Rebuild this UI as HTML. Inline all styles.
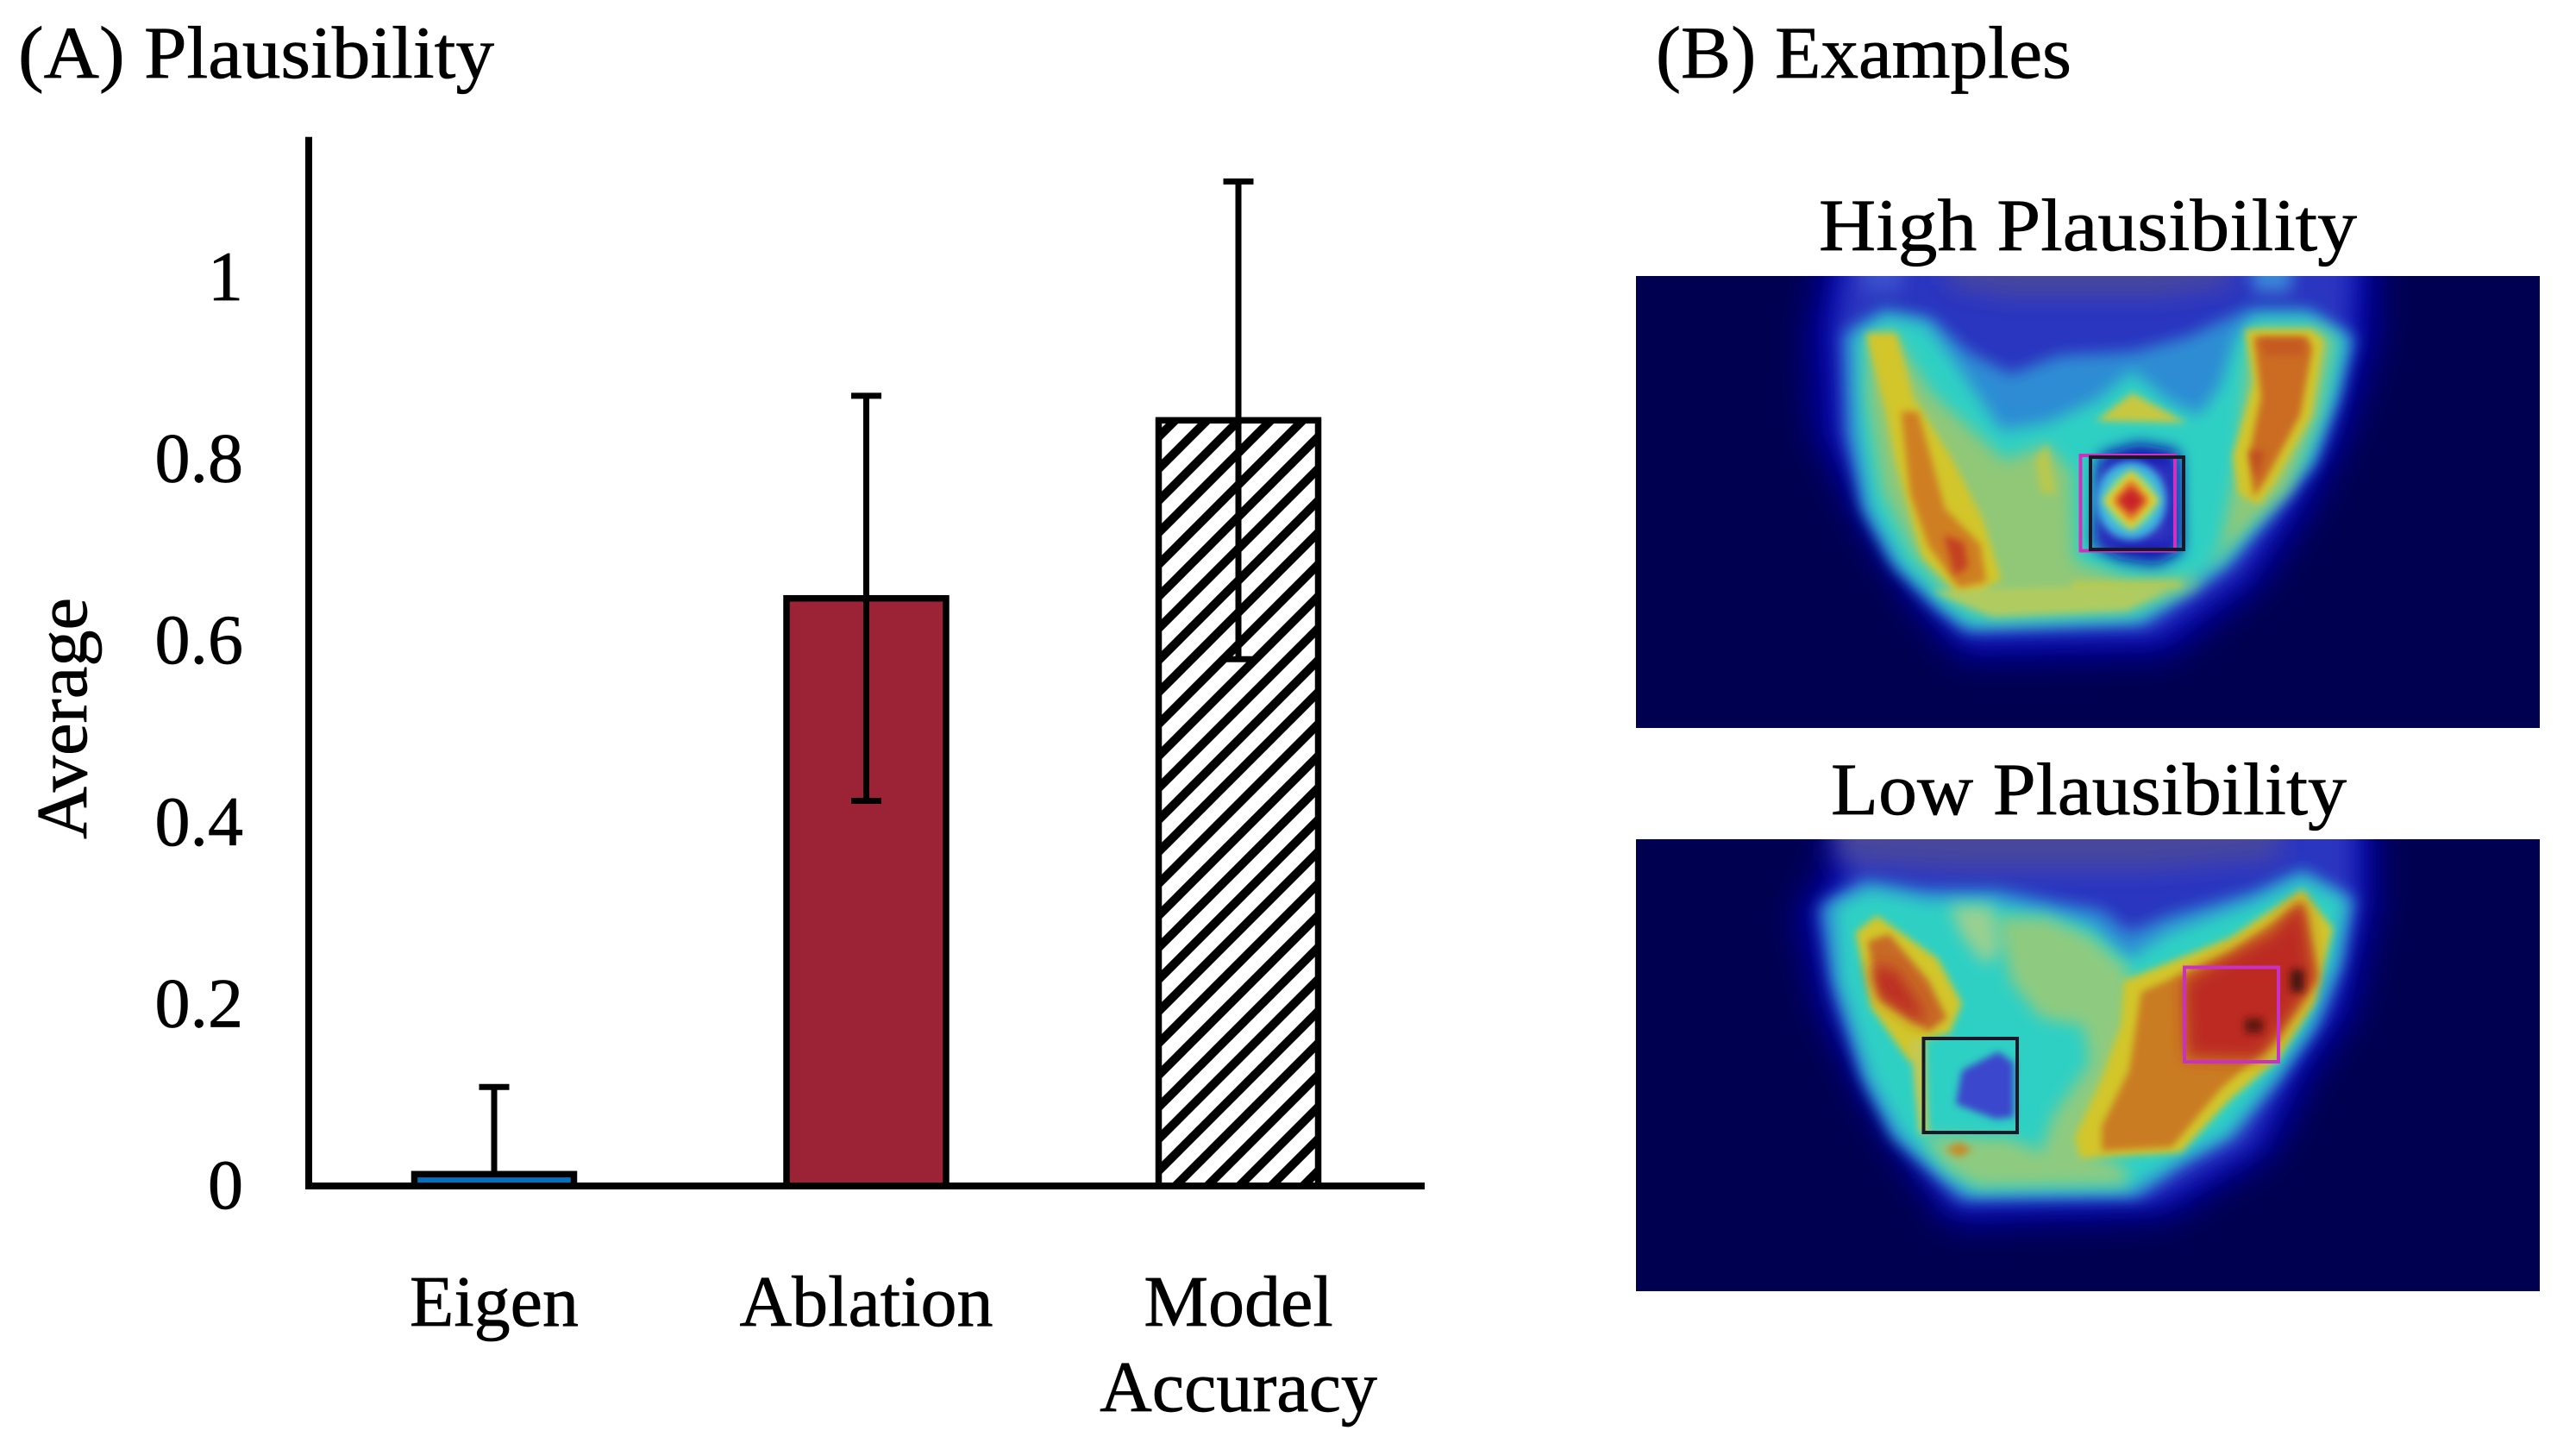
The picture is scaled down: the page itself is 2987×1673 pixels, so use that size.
<!DOCTYPE html>
<html lang="en">
<head>
<meta charset="utf-8">
<title>Plausibility chart and examples</title>
<style>
html,body{margin:0;padding:0;background:#fff;width:2987px;height:1673px;overflow:hidden}
svg{display:block}
text{font-family:"Liberation Serif",serif;fill:#000;stroke:#000;stroke-width:.7}
</style>
</head>
<body>
<svg id="figure" xmlns="http://www.w3.org/2000/svg" width="2987" height="1673" viewBox="0 0 2987 1673">
<defs>
<pattern id="hatch" patternUnits="userSpaceOnUse" width="37" height="37">
<rect width="37" height="37" fill="#fff"/>
<path d="M-9 9L9-9M0 37L37 0M28 46L46 28" stroke="#000" stroke-width="10" fill="none"/>
</pattern>
<filter id="b1" filterUnits="userSpaceOnUse" x="-300" y="-300" width="2200" height="2200"><feGaussianBlur stdDeviation="30 48"/></filter>
<filter id="b2" filterUnits="userSpaceOnUse" x="-300" y="-300" width="2200" height="2200"><feGaussianBlur stdDeviation="20 32"/></filter>
<filter id="b3" filterUnits="userSpaceOnUse" x="-300" y="-300" width="2200" height="2200"><feGaussianBlur stdDeviation="13 21"/></filter>
<filter id="b4" filterUnits="userSpaceOnUse" x="-300" y="-300" width="2200" height="2200"><feGaussianBlur stdDeviation="6 10"/></filter>
</defs>

<text x="21" y="90" font-size="86" textLength="552" lengthAdjust="spacingAndGlyphs">(A) Plausibility</text>
<text x="1920" y="90" font-size="86" textLength="482" lengthAdjust="spacingAndGlyphs">(B) Examples</text>

<g id="chart"></g>

<text transform="translate(100,973) rotate(-90)" font-size="84" textLength="280" lengthAdjust="spacingAndGlyphs">Average</text>

<text x="2109" y="290" font-size="86" textLength="624" lengthAdjust="spacingAndGlyphs">High Plausibility</text>
<text x="2123" y="944" font-size="86" textLength="598" lengthAdjust="spacingAndGlyphs">Low Plausibility</text>

<!-- High plausibility heatmap -->
<svg x="1897" y="320" width="1048" height="524" viewBox="24 277 1486 1210" preserveAspectRatio="none">
<rect x="24" y="277" width="1486" height="1210" fill="#000050"/>
<g filter="url(#b1)">
<polygon fill="#0000a8" points="340,200 1240,200 1240,450 1190,700 1130,900 1050,1100 900,1290 560,1300 480,1150 400,950 320,700 310,430"/>
</g>
<g filter="url(#b2)">
<polygon fill="#2a34c0" points="370,180 1210,180 1200,450 1160,700 1100,880 1020,1080 880,1240 570,1250 500,1130 430,950 360,700 350,420"/>
<polygon fill="#46469c" points="540,200 1000,200 1000,300 880,330 640,330 540,300"/>
</g>
<g filter="url(#b3)">
<polygon fill="#2f8cd4" points="365,430 430,365 510,390 570,480 640,540 720,490 840,480 930,440 1030,365 1130,365 1205,440 1180,600 1140,780 1080,900 1000,1050 950,1110 860,1210 565,1225 515,1160 445,1050 395,900 370,700"/>
<polygon fill="#3a86d8" points="1030,180 1110,180 1100,320 1040,320"/>
<polygon fill="#3a50cc" points="390,180 470,180 460,320 400,320"/>
</g>
<g filter="url(#b3)">
<polygon fill="#2ed0c4" points="385,440 435,385 500,405 545,500 625,690 700,670 780,610 840,530 900,610 950,650 985,570 1010,440 1040,385 1130,385 1190,445 1170,600 1130,770 1070,880 990,1040 940,1100 850,1195 575,1212 530,1160 460,1050 410,900 390,700"/>
</g>
<g filter="url(#b3)">
<polygon fill="#90c878" points="405,445 445,425 510,590 630,770 700,730 740,800 745,1040 830,1085 955,1085 985,1000 1015,760 1030,500 1040,420 1150,420 1170,450 1145,650 1095,850 1030,950 940,1110 830,1175 610,1190 545,1140 480,1020 430,850 405,600"/>
</g>
<polygon fill="#c8c840" filter="url(#b4)" points="840,590 780,665 930,670"/>
<g filter="url(#b4)">
<polygon fill="#d2c62c" points="402,430 452,430 480,600 545,770 595,930 625,1090 562,1138 495,1030 450,770 435,640"/>
<polygon fill="#d2c62c" points="1025,420 1135,420 1155,450 1135,650 1075,830 1048,890 1015,860 1005,760 1040,560"/>
<polygon fill="#c0ca48" points="740,1095 920,1095 920,1110 740,1110"/>
<polygon fill="#b8c850" points="680,770 700,725 715,860 690,860"/>
<polygon fill="#b0cc60" points="510,1120 700,1110 900,1115 830,1170 610,1185"/>
</g>
<g filter="url(#b4)">
<polygon fill="#cf7f24" points="460,640 488,640 510,770 532,900 590,995 600,1095 555,1112 505,1000 475,860"/>
<polygon fill="#cb6c22" points="1040,440 1128,440 1136,470 1116,650 1060,820 1040,870 1032,760 1052,600"/>
</g>
<g filter="url(#b4)">
<polygon fill="#c43f22" points="530,970 563,990 570,1055 548,1080"/>
<polygon fill="#c65a24" points="1048,445 1122,445 1122,490 1060,490"/>
<polygon fill="#c05024" points="1032,745 1058,745 1045,825"/>
</g>
<g filter="url(#b3)">
<polygon fill="#0a0ab0" points="790,755 850,725 915,745 920,1015 880,1050 820,1035 780,1000"/>
</g>
<rect x="785" y="775" width="125" height="225" fill="#3034c0" filter="url(#b3)"/>
<ellipse cx="838" cy="878" rx="58" ry="105" fill="#3cb0e0" filter="url(#b4)"/>
<ellipse cx="838" cy="878" rx="42" ry="76" fill="#60d8b0" filter="url(#b4)"/>
<polygon fill="#e0d030" points="838,795 885,878 838,960 791,878" filter="url(#b4)"/>
<polygon fill="#e07828" points="838,820 868,878 838,936 808,878" filter="url(#b4)"/>
<polygon fill="#c82028" points="838,842 860,878 838,914 816,878" filter="url(#b4)"/>
</svg>
<rect x="2412.5" y="528" width="109.5" height="110.5" fill="none" stroke="#d030c0" stroke-width="4"/>
<rect x="2424" y="530" width="108" height="107" fill="none" stroke="#181828" stroke-width="4"/>

<!-- Low plausibility heatmap -->
<svg x="1897" y="973" width="1048" height="524" viewBox="24 261 1486 1210" preserveAspectRatio="none">
<rect x="24" y="261" width="1486" height="1210" fill="#000050"/>
<g filter="url(#b1)">
<polygon fill="#0000a8" points="340,180 1240,180 1240,450 1200,730 1130,900 1070,1100 900,1270 540,1290 470,1130 400,950 330,720 290,450 340,350"/>
</g>
<g filter="url(#b2)">
<polygon fill="#2a34c0" points="370,160 1210,160 1210,440 1170,710 1100,880 1040,1080 880,1230 550,1245 490,1120 425,940 355,700 330,450 370,370"/>
<polygon fill="#46469c" points="350,180 1080,180 1080,310 860,340 560,340 350,320"/>
</g>
<g filter="url(#b3)">
<polygon fill="#2f8cd4" points="325,440 400,370 500,395 620,395 720,430 790,450 835,510 900,465 1040,400 1120,340 1205,420 1185,600 1145,760 1085,900 1005,1060 925,1130 850,1220 560,1225 515,1160 445,1060 395,900 345,640"/>
</g>
<g filter="url(#b3)">
<polygon fill="#2ed0c4" points="350,440 410,395 500,425 600,425 700,460 770,490 835,580 900,510 1040,430 1120,365 1190,425 1170,600 1130,760 1070,900 995,1050 915,1120 835,1200 575,1205 530,1155 460,1050 410,900 360,640"/>
</g>
<g filter="url(#b3)">
<polygon fill="#8ecb80" points="620,470 700,470 770,520 835,610 835,1000 770,1100 830,1140 830,1185 585,1190 535,1140 495,1055 640,1060 690,1100 710,1000 770,860 760,760 690,740 640,640"/>
<polygon fill="#9ad090" points="540,440 610,440 620,560 600,600 560,520"/>
</g>
<g filter="url(#b4)">
<polygon fill="#d2c62c" points="385,510 420,465 520,580 560,700 540,780 495,800 475,860 410,710"/>
<polygon fill="#d2c62c" points="825,640 1000,525 1120,395 1170,500 1140,700 1080,850 1000,960 920,1100 755,1115 745,1060 790,900 820,760"/>
<polygon fill="#c8c850" points="475,800 500,800 505,1050 490,1050"/>
</g>
<g filter="url(#b4)">
<polygon fill="#ca7c22" points="855,670 1000,565 1120,430 1145,630 1075,800 985,930 905,1085 790,1095 790,1030 835,880"/>
<polygon fill="#c86a28" points="405,535 440,515 505,640 535,740 505,775 425,690"/>
</g>
<g filter="url(#b3)">
<polygon fill="#bc2a20" points="925,640 1070,510 1120,420 1140,640 1085,770 1050,850 930,845"/>
<polygon fill="#bc2a22" points="408,600 450,610 495,720 495,760 425,680"/>
</g>
<polygon fill="#4a1410" filter="url(#b4)" points="1100,610 1122,610 1122,670 1100,670"/>
<polygon fill="#641810" filter="url(#b4)" points="1025,740 1055,740 1055,780 1025,780"/>
<polygon fill="#2ed0c4" filter="url(#b3)" points="525,870 600,790 655,800 655,1040 590,1035 530,1000"/>
<polygon fill="#3a46cc" filter="url(#b4)" points="560,880 620,830 645,860 645,1005 615,1010 550,970"/>
<polygon filter="url(#b4)" fill="#c88a28" points="555,1072 578,1092 555,1112 532,1092"/>
</svg>
<rect x="2230.5" y="1204" width="108.5" height="109" fill="none" stroke="#181828" stroke-width="4"/>
<rect x="2533" y="1121.5" width="109" height="109.5" fill="none" stroke="#c830c8" stroke-width="4"/>
</svg>

<script>
const categories = ["Eigen", "Ablation", "Model"];
const categoryLines = [["Eigen"], ["Ablation"], ["Model", "Accuracy"]];
const values = [0.013, 0.647, 0.843];
const errUpper = [0.109, 0.870, 1.106];
const errLower = [0.013, 0.424, 0.580];
const yTicks = [0, 0.2, 0.4, 0.6, 0.8, 1];
const barFills = ["#0070c0", "#9b2335", "url(#hatch)"];

const NS = "http://www.w3.org/2000/svg";
const chart = document.getElementById("chart");
const yScale = v => 1375 - v * 1053;
const xScale = i => 573 + i * 431.5;
const BAR_W = 185;
const CAP_W = 35;

function mk(tag, attrs, parent) {
  const el = document.createElementNS(NS, tag);
  for (const k in attrs) el.setAttribute(k, attrs[k]);
  parent.appendChild(el);
  return el;
}

categories.forEach((cat, i) => {
  const cx = xScale(i);
  const top = yScale(values[i]);
  const bar = mk("rect", {x: cx - BAR_W / 2, y: top, width: BAR_W, height: yScale(0) - top, fill: barFills[i], stroke: "#000", "stroke-width": 7.5}, chart);
  
  
});

const yAxis = mk("line", {x1: 358, x2: 358, y1: yScale(1.155), y2: yScale(0) + 4, stroke: "#000", "stroke-width": 8}, chart);


const xAxis = mk("line", {x1: 358, x2: 1652, y1: yScale(0), y2: yScale(0), stroke: "#000", "stroke-width": 8}, chart);



categories.forEach((cat, i) => {
  const cx = xScale(i);
  const err = mk("g", {stroke: "#000", "stroke-width": 7}, chart);
  
  
  mk("line", {x1: cx, x2: cx, y1: yScale(errUpper[i]), y2: yScale(errLower[i])}, err);
  mk("line", {x1: cx - CAP_W / 2, x2: cx + CAP_W / 2, y1: yScale(errUpper[i]), y2: yScale(errUpper[i])}, err);
  if (errLower[i] !== values[i]) {
    mk("line", {x1: cx - CAP_W / 2, x2: cx + CAP_W / 2, y1: yScale(errLower[i]), y2: yScale(errLower[i])}, err);
  }
  categoryLines[i].forEach((line, j) => {
    const t = mk("text", {x: cx, y: 1537 + j * 99, "text-anchor": "middle", "font-size": 84}, chart);
    t.textContent = line;
    
    
  });
});

yTicks.forEach(v => {
  const t = mk("text", {x: 282, y: yScale(v) + 26, "text-anchor": "end", "font-size": 82}, chart);
  t.textContent = String(v);
  
  
});
</script>
</body>
</html>
